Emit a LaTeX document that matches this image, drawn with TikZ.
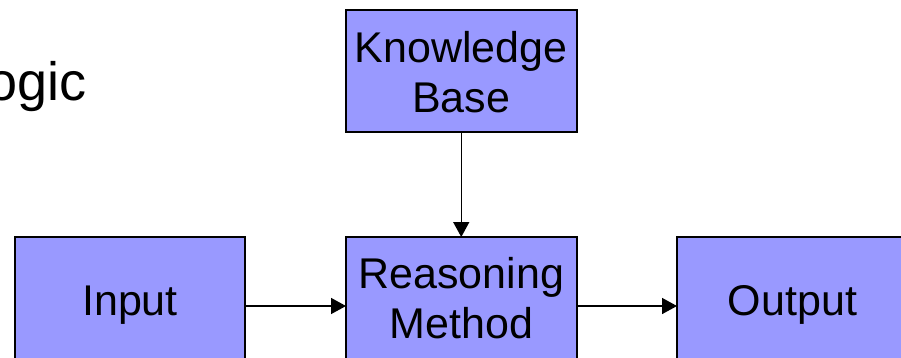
\documentclass[tikz,border=0pt]{standalone}
\usepackage{fontspec}
\setmainfont{Liberation Sans}
\usetikzlibrary{arrows.meta}
\definecolor{boxfill}{RGB}{153,153,255}
\tikzset{
  box/.style={draw=black, line width=2pt, fill=boxfill, minimum width=230.5pt,
    inner sep=0pt, outer sep=0pt},
  boxtext/.style={font=\fontsize{43}{50}\selectfont, align=center, inner sep=0pt},
  flow/.style={line width=1.5pt, -{Triangle[length=15pt,width=16pt]}}
}
\begin{document}
\begin{tikzpicture}[x=1pt,y=-1pt]
  \useasboundingbox (0,0) rectangle (901,357);
  \clip (0,0) rectangle (901,357);
  \fill[white] (0,0) rectangle (901,357);

  % title fragment at the left edge
  \node[anchor=base west, inner sep=0pt, font=\fontsize{54}{60}\selectfont] (title) at (-13,100) {ogic};

  % boxes
  \node[box, minimum height=121.5pt] (kb) at (461.25,70.75) {};
  \node[box, minimum height=138pt] (inp) at (129.75,306) {};
  \node[box, minimum height=138pt] (rm) at (461.25,306) {};
  \node[box, minimum height=138pt] (out) at (792.25,306) {};

  % box labels (base anchor sits on the last line)
  \node[boxtext, anchor=base] (kbt) at (461.25,112) {Knowledge\\Base};
  \node[boxtext, anchor=base] (inpt) at (130,315) {Input};
  \node[boxtext, anchor=base] (rmt) at (461.25,338) {Reasoning\\Method};
  \node[boxtext, anchor=base] (outt) at (792.5,315) {Output};

  % connectors
  \draw[flow] (kb.south) -- (rm.north);
  \draw[flow] (inp.east) -- (rm.west);
  \draw[flow] (rm.east) -- (out.west);
\end{tikzpicture}
\end{document}
